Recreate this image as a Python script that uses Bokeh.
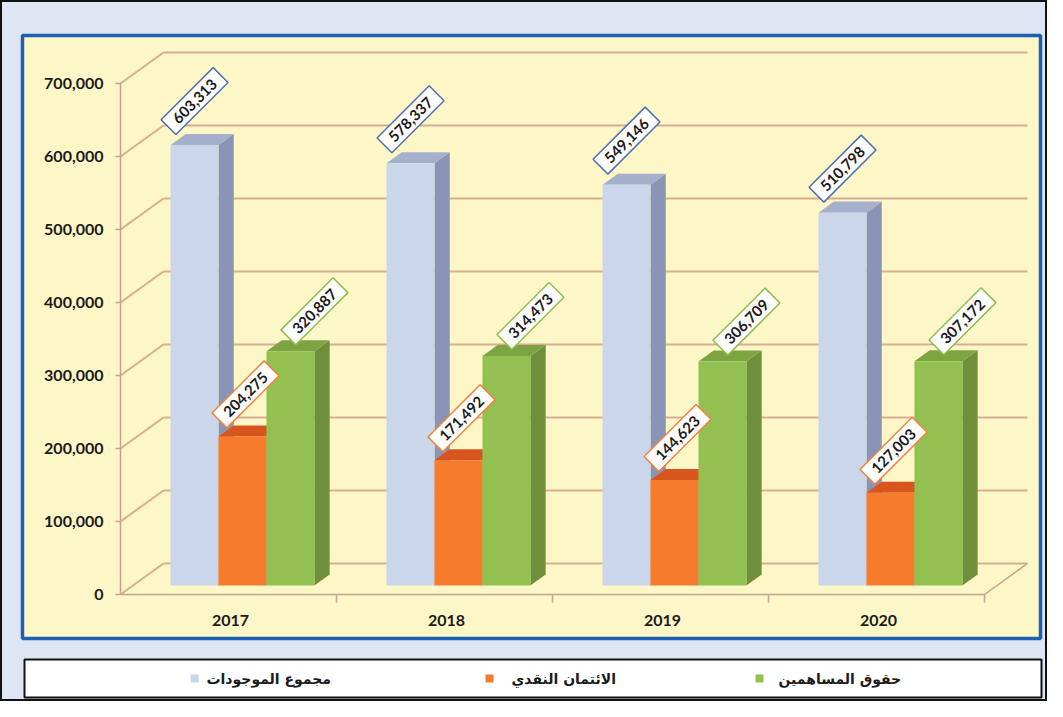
import math
from bokeh.plotting import figure
from bokeh.models import Range1d
from bokeh.core.properties import value
from bokeh.embed import file_html
from bokeh.resources import INLINE

# ---------------- data ----------------
years = ["2017", "2018", "2019", "2020"]
series_names = ["مجموع الموجودات", "الائتمان النقدي", "حقوق المساهمين"]
total_assets = [603313, 578337, 549146, 510798]
cash_credit = [204275, 171492, 144623, 127003]
equity = [320887, 314473, 306709, 307172]
y_ticks = [0, 100000, 200000, 300000, 400000, 500000, 600000, 700000]
series = [total_assets, cash_credit, equity]

# ---------------- styles ----------------
front_colors = ["#cad7eb", "#f67b2c", "#92c151"]
side_colors = ["#8a94b6", "#c95a22", "#6f8f3b"]
top_colors = ["#a5b0cc", "#d8561d", "#7da442"]
label_border = ["#4f6fb2", "#f2813f", "#8fbe4c"]
grid_color = "#d9ad91"
axis_color = "#c6a28a"
text_color = "#1b1b1b"
num_font = value("Lato")
ar_font = value("DejaVu Sans")

# ---------------- geometry (pixels on page) ----------------
W, H = 1047, 701
OX, OY = 8, 8
X0, CW = 128.0, 216.0       # front-plane left edge, category width
Y0, K = 602.0, 0.00073      # front-plane zero line, px per unit
DX, DY = 43.0, 31.0         # full depth offset
D1, D2 = 0.29, 0.645        # bar front / back depth
GAP, BW = 0.174, 0.222      # bar offset & width in category units


def px2x(px):
    return (px - X0) / CW


def py2y(py):
    return (Y0 - py) / K


def ddx(d):
    return DX * d / CW


def ddy(d):
    return DY * d / K


p = figure(width=W, height=H, output_backend="svg", toolbar_location=None,
           x_range=Range1d(px2x(OX), px2x(OX + W)),
           y_range=Range1d(py2y(OY + H), py2y(OY)),
           x_axis_type=None, y_axis_type=None, min_border=0)
p.background_fill_color = "#dde6f2"
p.border_fill_color = "#dde6f2"
p.outline_line_color = "#111111"
p.outline_line_width = 3
p.xgrid.visible = False
p.ygrid.visible = False

# panel and legend box (decoration)
p.quad(left=[px2x(30)], right=[px2x(1048)], top=[py2y(43)], bottom=[py2y(646)],
       fill_color="#fdf6c6", line_color="#1c60b5", line_width=3.5)
p.quad(left=[px2x(32)], right=[px2x(1049)], top=[py2y(667)], bottom=[py2y(705)],
       fill_color="white", line_color="#111111", line_width=2)

n = len(years)
back_x0 = 0 + ddx(1)
back_x1 = n + ddx(1)

# back wall gridlines
p.segment(x0=[back_x0] * len(y_ticks), y0=[v + ddy(1) for v in y_ticks],
          x1=[back_x1] * len(y_ticks), y1=[v + ddy(1) for v in y_ticks],
          line_color=grid_color, line_width=2)
# side wall diagonals
p.segment(x0=[0] * len(y_ticks), y0=y_ticks,
          x1=[ddx(1)] * len(y_ticks), y1=[v + ddy(1) for v in y_ticks],
          line_color=grid_color, line_width=2)
# front axis line + ticks
p.segment(x0=[0], y0=[0], x1=[0], y1=[max(y_ticks)], line_color=axis_color, line_width=1.5)
p.segment(x0=[px2x(123)] * len(y_ticks), y0=y_ticks, x1=[0] * len(y_ticks), y1=y_ticks,
          line_color=axis_color, line_width=1.5)
# floor front line and right diagonal
p.segment(x0=[0], y0=[0], x1=[n], y1=[0], line_color=axis_color, line_width=1.5)
p.segment(x0=[n], y0=[0], x1=[n + ddx(1)], y1=[ddy(1)], line_color=axis_color, line_width=1.5)
# category ticks
p.segment(x0=list(range(1, n + 1)), y0=[0] * n, x1=list(range(1, n + 1)),
          y1=[-8 / K] * n, line_color=axis_color, line_width=1.5)

# bars
for s, vals in enumerate(series):
    lefts = [i + GAP + s * BW for i in range(n)]
    rights = [l + BW for l in lefts]
    side_xs, side_ys, top_xs, top_ys = [], [], [], []
    for l, r, v in zip(lefts, rights, vals):
        side_xs.append([r + ddx(D1), r + ddx(D2), r + ddx(D2), r + ddx(D1)])
        side_ys.append([ddy(D1), ddy(D2), v + ddy(D2), v + ddy(D1)])
        top_xs.append([l + ddx(D1), r + ddx(D1), r + ddx(D2), l + ddx(D2)])
        top_ys.append([v + ddy(D1), v + ddy(D1), v + ddy(D2), v + ddy(D2)])
    p.patches(side_xs, side_ys, fill_color=side_colors[s], line_color=None)
    p.patches(top_xs, top_ys, fill_color=top_colors[s], line_color=None)
    p.quad(left=[l + ddx(D1) for l in lefts], right=[r + ddx(D1) for r in rights],
           bottom=[ddy(D1)] * n, top=[v + ddy(D1) for v in vals],
           fill_color=front_colors[s], line_color=None)

# data labels
label_off = [(0, 44), (3, 42), (24, 40)]
for s, vals in enumerate(series):
    offx, offy = label_off[s]
    xs = [i + GAP + s * BW + BW / 2 + ddx(D1) + offx / CW for i in range(n)]
    ys = [v + ddy(D1) + offy / K for v in vals]
    p.text(x=xs, y=ys, text=[f"{v:,}" for v in vals], angle=math.pi / 4,
           text_align="center", text_baseline="middle",
           text_font=num_font, text_font_style="bold", text_font_size="15px",
           text_color=text_color, background_fill_color="white",
           border_line_color=label_border[s], border_line_width=1.5,
           padding=(9, 5))

# y tick labels
p.text(x=[px2x(111)] * len(y_ticks), y=y_ticks, text=[f"{v:,}" for v in y_ticks],
       text_align="right", text_baseline="middle", text_font=num_font,
       text_font_style="bold", text_font_size="16px", text_color=text_color)

# category labels
p.text(x=[i + 0.5 + 2 / CW for i in range(n)], y=[py2y(628)] * n, text=years,
       text_align="center", text_baseline="middle", text_font=num_font,
       text_font_style="bold", text_font_size="16px", text_color=text_color)

# legend
leg_marker_px = [202, 497, 767]
leg_text_px = [214, 519, 786]
p.scatter(x=[px2x(v) for v in leg_marker_px], y=[py2y(686)] * 3, marker="square",
          size=8, fill_color=front_colors, line_color=None)
p.text(x=[px2x(v) for v in leg_text_px], y=[py2y(686)] * 3, text=series_names,
       text_align="left", text_baseline="middle", text_font=ar_font,
       text_font_style="bold", text_font_size="14px", text_color=text_color)

open("out.html", "w").write(file_html(p, INLINE))
